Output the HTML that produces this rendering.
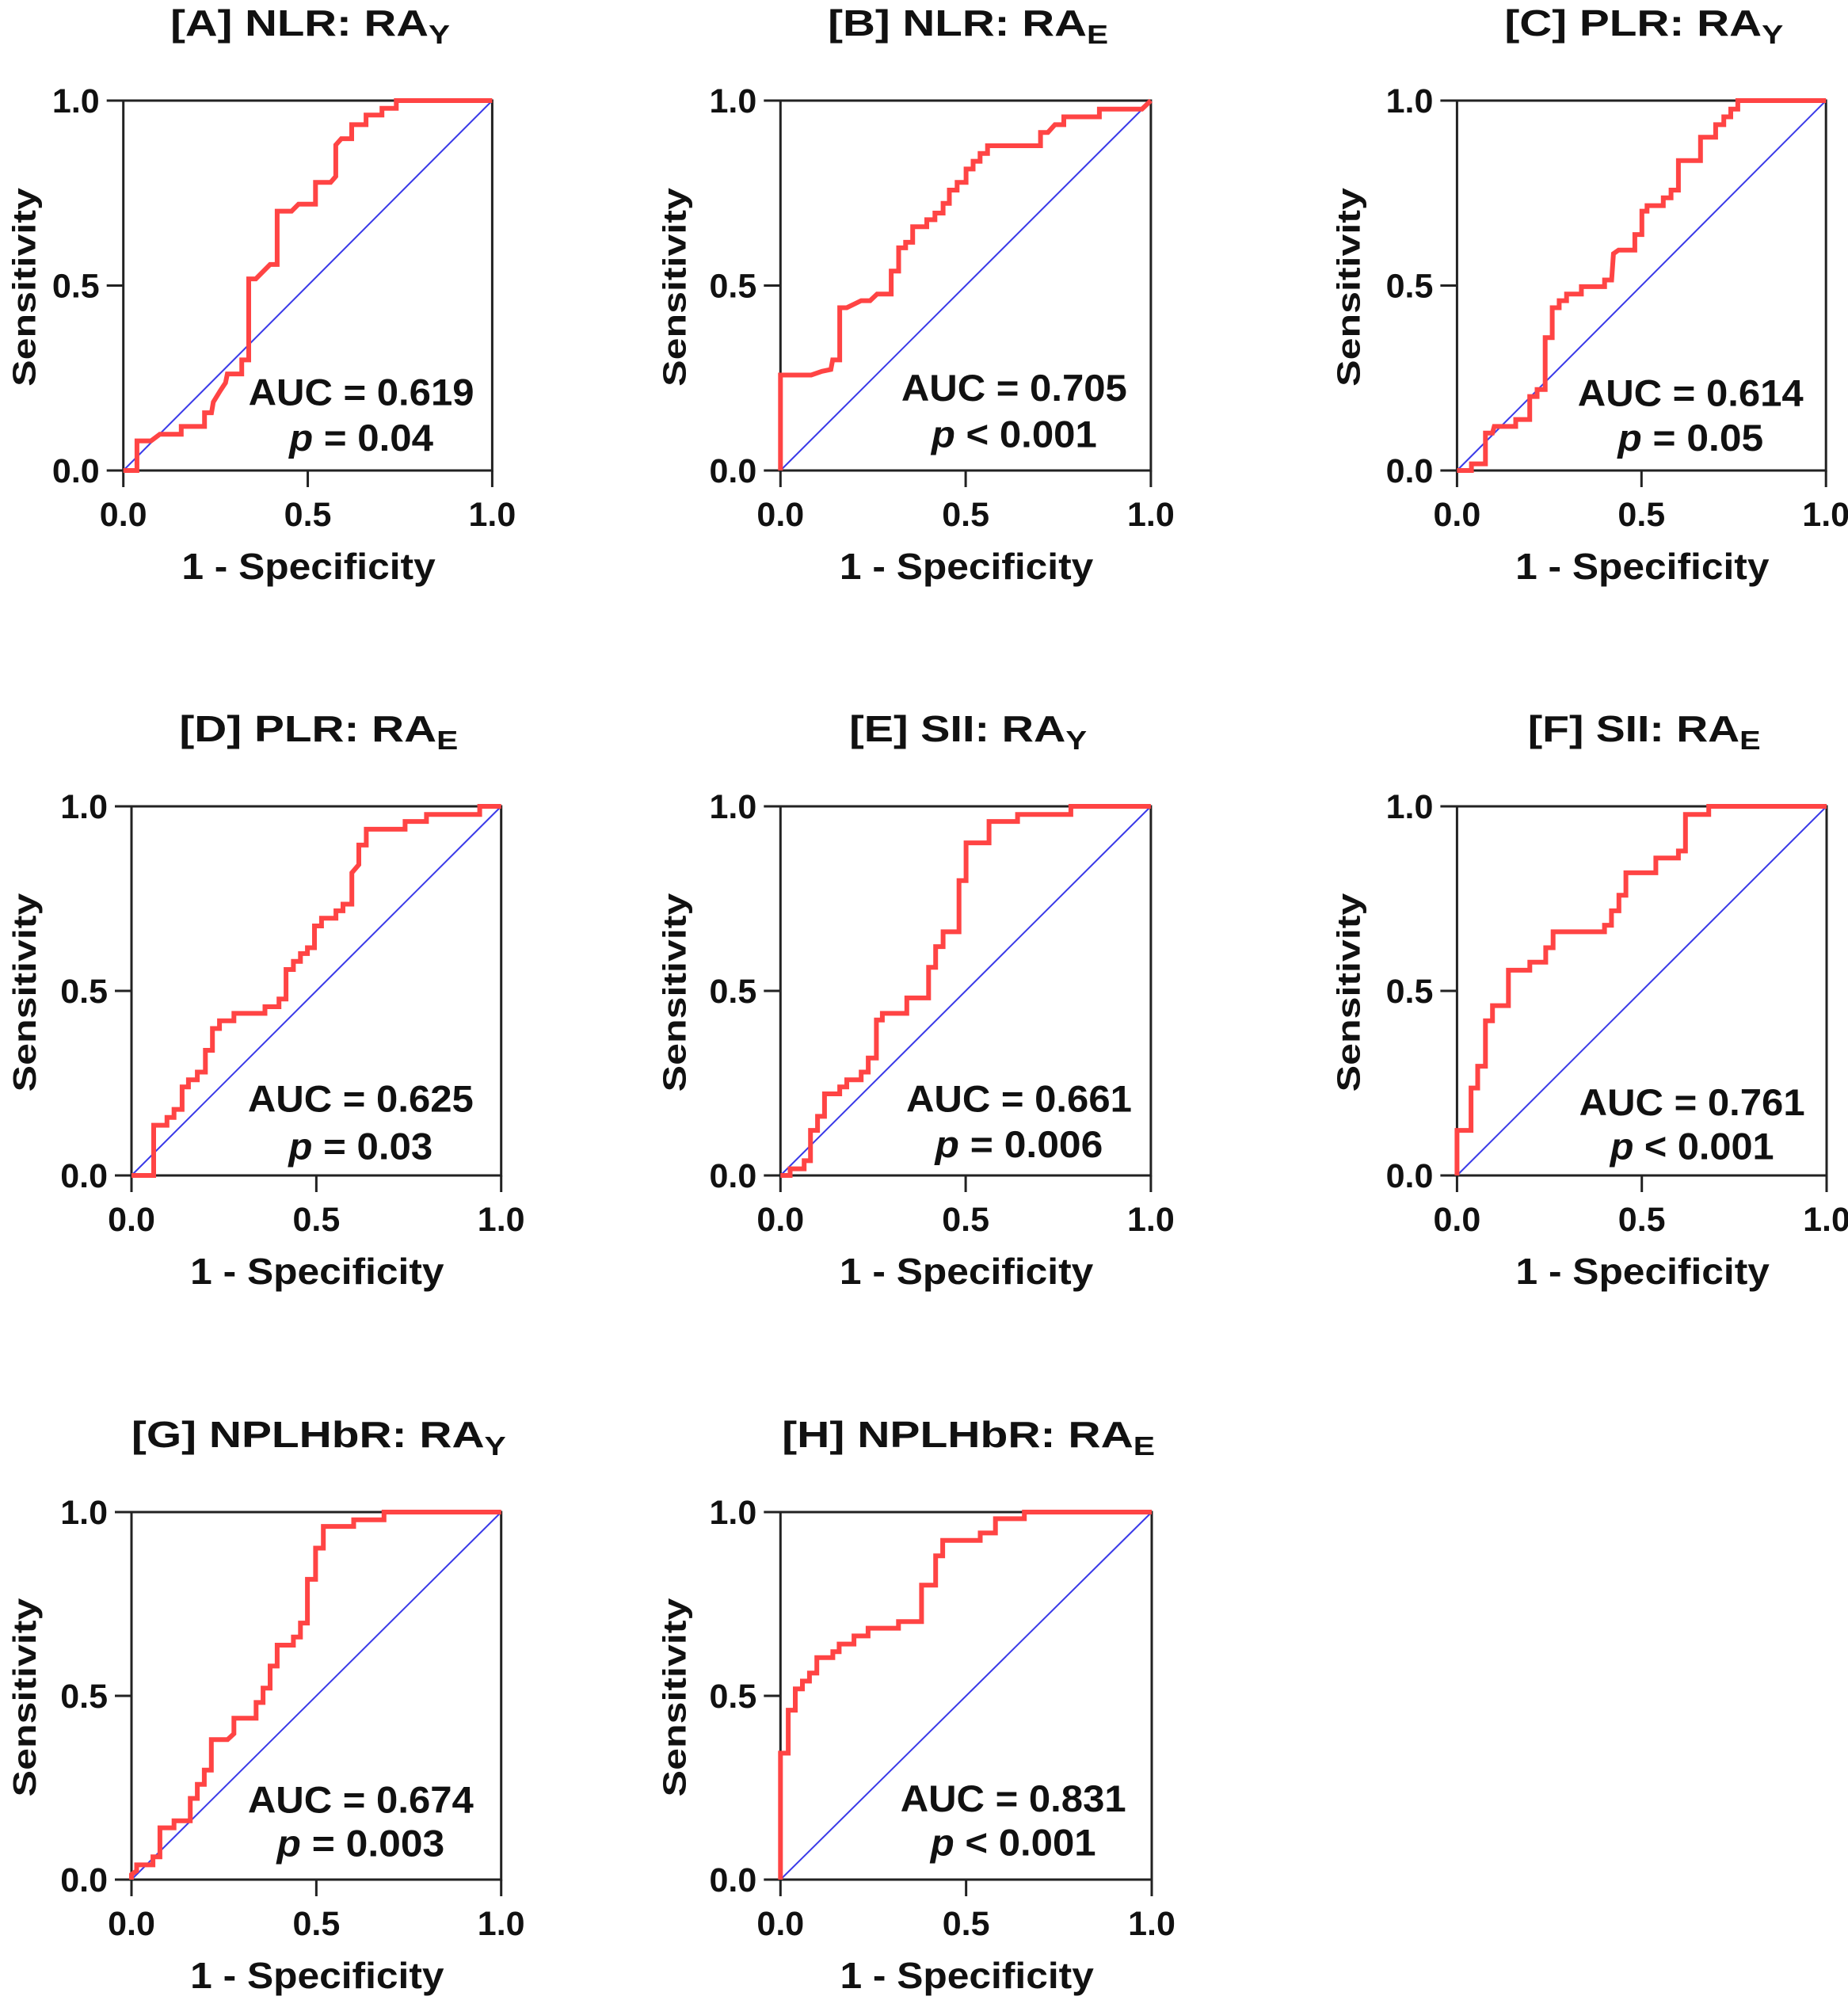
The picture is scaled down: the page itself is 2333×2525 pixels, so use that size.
<!DOCTYPE html>
<html><head><meta charset="utf-8"><style>
html,body{margin:0;padding:0;background:#fff;}
svg{display:block;font-family:"Liberation Sans",Arial,sans-serif;font-weight:bold;}
</style></head><body>
<svg id="fig" width="2333" height="2525" viewBox="0 0 2333 2525" xmlns="http://www.w3.org/2000/svg">
<rect width="2333" height="2525" fill="#fff"/>
</svg>
<script>
// ---- data: ROC curve vertices (1 - specificity, sensitivity) per panel ----
const panelIds = ["A","B","C","D","E","F","G","H"];
const titleMain = ["[A] NLR: RA","[B] NLR: RA","[C] PLR: RA","[D] PLR: RA","[E] SII: RA","[F] SII: RA","[G] NPLHbR: RA","[H] NPLHbR: RA"];
const titleSub = ["Y","E","Y","E","Y","E","Y","E"];
const aucLabels = ["AUC = 0.619","AUC = 0.705","AUC = 0.614","AUC = 0.625","AUC = 0.661","AUC = 0.761","AUC = 0.674","AUC = 0.831"];
const pOps = ["=","<","=","=","=","<","=","<"];
const pVals = ["0.04","0.001","0.05","0.03","0.006","0.001","0.003","0.001"];
const tickValues = [0, 0.5, 1];
const tickLabels = ["0.0","0.5","1.0"];

const xA = [0,0.037,0.037,0.075,0.099,0.157,0.157,0.220,0.220,0.239,0.244,0.263,0.277,0.282,0.321,0.321,0.340,0.340,0.359,0.398,0.417,0.417,0.456,0.475,0.521,0.521,0.562,0.576,0.576,0.591,0.619,0.619,0.658,0.658,0.701,0.701,0.740,0.740,1];
const yA = [0,0,0.080,0.080,0.098,0.098,0.119,0.119,0.156,0.156,0.185,0.216,0.237,0.261,0.261,0.299,0.299,0.518,0.518,0.557,0.557,0.701,0.701,0.720,0.720,0.779,0.779,0.795,0.880,0.897,0.897,0.935,0.935,0.961,0.961,0.979,0.979,1,1];
const xB = [0,0,0.083,0.112,0.136,0.141,0.160,0.160,0.179,0.218,0.242,0.261,0.299,0.299,0.319,0.319,0.338,0.338,0.357,0.357,0.395,0.395,0.417,0.417,0.439,0.439,0.456,0.456,0.477,0.477,0.501,0.501,0.520,0.520,0.539,0.539,0.559,0.559,0.702,0.702,0.722,0.741,0.765,0.765,0.861,0.861,0.976,1];
const yB = [0,0.258,0.258,0.268,0.273,0.299,0.299,0.440,0.440,0.459,0.459,0.477,0.477,0.539,0.539,0.602,0.602,0.617,0.617,0.659,0.659,0.678,0.678,0.696,0.696,0.722,0.722,0.758,0.758,0.779,0.779,0.815,0.815,0.836,0.836,0.857,0.857,0.878,0.878,0.914,0.914,0.935,0.935,0.956,0.956,0.977,0.977,1];
const xC = [0,0.039,0.039,0.077,0.077,0.096,0.101,0.159,0.159,0.197,0.197,0.217,0.217,0.239,0.239,0.258,0.258,0.277,0.277,0.297,0.297,0.337,0.337,0.400,0.400,0.419,0.424,0.438,0.482,0.482,0.501,0.501,0.515,0.515,0.559,0.559,0.580,0.580,0.600,0.600,0.660,0.660,0.701,0.701,0.723,0.723,0.742,0.742,0.761,0.761,1];
const yC = [0,0,0.018,0.018,0.101,0.101,0.119,0.119,0.138,0.138,0.200,0.200,0.219,0.219,0.359,0.359,0.440,0.440,0.459,0.459,0.477,0.477,0.497,0.497,0.515,0.515,0.586,0.596,0.596,0.638,0.638,0.701,0.701,0.716,0.716,0.737,0.737,0.758,0.758,0.838,0.838,0.901,0.901,0.935,0.935,0.956,0.956,0.977,0.977,1,1];
const xD = [0,0.060,0.060,0.096,0.096,0.115,0.115,0.137,0.137,0.154,0.154,0.178,0.178,0.200,0.200,0.219,0.219,0.238,0.238,0.277,0.277,0.361,0.361,0.399,0.399,0.418,0.418,0.438,0.438,0.457,0.457,0.476,0.476,0.495,0.495,0.514,0.514,0.553,0.553,0.572,0.572,0.596,0.596,0.615,0.615,0.635,0.635,0.740,0.740,0.798,0.798,0.942,0.942,1];
const yD = [0,0,0.136,0.136,0.157,0.157,0.179,0.179,0.240,0.240,0.259,0.259,0.280,0.280,0.339,0.339,0.398,0.398,0.419,0.419,0.439,0.439,0.457,0.457,0.478,0.478,0.558,0.558,0.580,0.580,0.601,0.601,0.617,0.617,0.676,0.676,0.697,0.697,0.717,0.717,0.735,0.735,0.820,0.842,0.895,0.895,0.938,0.938,0.959,0.959,0.978,0.978,1,1];
const xE = [0,0.026,0.026,0.064,0.064,0.081,0.081,0.100,0.100,0.119,0.119,0.160,0.160,0.179,0.179,0.218,0.218,0.237,0.237,0.259,0.259,0.275,0.275,0.341,0.341,0.400,0.400,0.419,0.419,0.439,0.439,0.482,0.482,0.501,0.501,0.563,0.563,0.640,0.640,0.784,0.784,1];
const yE = [0,0,0.018,0.018,0.040,0.040,0.122,0.122,0.160,0.160,0.221,0.221,0.240,0.240,0.259,0.259,0.280,0.280,0.318,0.318,0.421,0.421,0.439,0.439,0.481,0.481,0.564,0.564,0.620,0.620,0.660,0.660,0.799,0.799,0.901,0.901,0.959,0.959,0.978,0.978,1,1];
const xF = [0,0,0.038,0.038,0.056,0.056,0.077,0.077,0.096,0.096,0.139,0.139,0.197,0.197,0.240,0.240,0.260,0.260,0.399,0.399,0.418,0.418,0.438,0.438,0.457,0.457,0.538,0.538,0.599,0.599,0.618,0.618,0.681,0.681,1];
const yF = [0,0.122,0.122,0.237,0.237,0.296,0.296,0.419,0.419,0.460,0.460,0.556,0.556,0.578,0.578,0.617,0.617,0.660,0.660,0.678,0.678,0.717,0.717,0.759,0.759,0.820,0.820,0.860,0.860,0.879,0.879,0.978,0.978,1,1];
const xG = [0,0,0.014,0.014,0.058,0.058,0.077,0.077,0.115,0.115,0.159,0.159,0.178,0.178,0.197,0.197,0.216,0.216,0.260,0.277,0.277,0.337,0.337,0.356,0.356,0.375,0.375,0.394,0.394,0.438,0.438,0.457,0.457,0.476,0.476,0.498,0.498,0.519,0.519,0.601,0.601,0.683,0.683,1];
const yG = [0,0.014,0.024,0.040,0.040,0.062,0.062,0.141,0.141,0.160,0.160,0.221,0.221,0.259,0.259,0.298,0.298,0.381,0.381,0.397,0.439,0.439,0.482,0.482,0.521,0.521,0.581,0.581,0.638,0.638,0.660,0.660,0.698,0.698,0.817,0.817,0.902,0.902,0.961,0.961,0.979,0.979,1,1];
const xH = [0,0,0.021,0.021,0.040,0.040,0.059,0.059,0.078,0.078,0.098,0.098,0.141,0.141,0.158,0.158,0.198,0.198,0.236,0.236,0.318,0.318,0.380,0.380,0.418,0.418,0.437,0.437,0.538,0.538,0.579,0.579,0.657,0.657,1];
const yH = [0,0.344,0.344,0.461,0.461,0.519,0.519,0.540,0.540,0.562,0.562,0.604,0.604,0.620,0.620,0.641,0.641,0.663,0.663,0.684,0.684,0.702,0.702,0.801,0.801,0.881,0.881,0.923,0.923,0.943,0.943,0.982,0.982,1,1];
const curveX = [xA,xB,xC,xD,xE,xF,xG,xH];
const curveY = [yA,yB,yC,yD,yE,yF,yG,yH];

// ---- layout (pixel geometry, not data) ----
const V = 1.086;
const frames = [
  {l:155.7,r:621.4,t:127,b:594},{l:985.3,r:1452.9,t:127,b:594},{l:1839.4,r:2305.2,t:127,b:594},
  {l:166,r:632.7,t:1018,b:1484},{l:985.3,r:1452.9,t:1018,b:1484},{l:1839.4,r:2306,t:1018,b:1484},
  {l:166,r:632.7,t:1909,b:2373},{l:985.3,r:1454,t:1909,b:2373}];
const titleW = [353,354,352,352,300,294,473,471];
const statCx = [0.645,0.631,0.633,0.62,0.644,0.636,0.62,0.627];
const aucOff = [76,81,75,74,74,70,78,79];
const pOff = [23,27,23,19,21,19,27,28];
const pW = [184,211,186,184,214,209,214,211];
const sensOff = [111,120,123,121,120,123,121,120];

const NS = "http://www.w3.org/2000/svg";
const svg = document.getElementById("fig");
function mk(tag, attrs, parent){
  const e = document.createElementNS(NS, tag);
  for (const k in attrs) e.setAttribute(k, attrs[k]);
  (parent||svg).appendChild(e);
  return e;
}
function fitX(el, target, cx){
  const w = el.getBBox().width;
  if (w > 0) {
    const s = target / w;
    el.setAttribute("transform", "translate(" + cx + ",0) scale(" + s + ",1) translate(" + (-cx) + ",0)");
  }
}

panelIds.forEach(function(id, i){
  const f = frames[i];
  const sx = function(v){ return f.l + v * (f.r - f.l); };
  const sy = function(v){ return f.b - v * (f.b - f.t); };
  const g = mk("g", {});
  
  

  const cx = (f.l + f.r) / 2 + 3;
  const title = mk("text", {x: cx, y: f.t - 82, "text-anchor": "middle", "font-size": 46, fill: "#111"}, g);
  
  
  const t1 = mk("tspan", {}, title); t1.textContent = titleMain[i];
  const t2 = mk("tspan", {"font-size": 33, dy: 10}, title); t2.textContent = titleSub[i];
  fitX(title, titleW[i], cx);

  const diag = mk("line", {x1: sx(0), y1: sy(0), x2: sx(1), y2: sy(1), stroke: "#3a3ae8", "stroke-width": 2}, g);
  
  

  const box = mk("rect", {x: f.l, y: f.t, width: f.r - f.l, height: f.b - f.t, fill: "none", stroke: "#222", "stroke-width": 3}, g);
  
  

  tickValues.forEach(function(v, k){
    const yt = mk("line", {x1: f.l - 21, y1: sy(v), x2: f.l, y2: sy(v), stroke: "#222", "stroke-width": 3}, g);
    
    
    const yl = mk("text", {x: f.l - 30, y: sy(v) + 15, "text-anchor": "end", "font-size": 43, fill: "#111"}, g);
    
    
    yl.textContent = tickLabels[k];
    const xt = mk("line", {x1: sx(v), y1: f.b, x2: sx(v), y2: f.b + 21, stroke: "#222", "stroke-width": 3}, g);
    
    
    const xl = mk("text", {x: sx(v), y: f.b + 70, "text-anchor": "middle", "font-size": 43, fill: "#111"}, g);
    
    
    xl.textContent = tickLabels[k];
  });

  const xcx = (f.l + f.r) / 2 + 1;
  const xt = mk("text", {x: xcx, y: f.b + 137, "text-anchor": "middle", "font-size": 46, fill: "#111"}, g);
  
  
  xt.textContent = "1 - Specificity";
  fitX(xt, 321, xcx);

  const yg = mk("g", {transform: "translate(" + (f.l - sensOff[i]) + "," + ((f.t + f.b) / 2 + 2) + ") rotate(-90)"}, g);
  const yt = mk("text", {x: 0, y: 0, "text-anchor": "middle", "font-size": 41, fill: "#111"}, yg);
  
  
  yt.textContent = "Sensitivity";
  fitX(yt, 251, 0);

  const xs = curveX[i], ys = curveY[i];
  let d = "";
  for (let k = 0; k < xs.length; k++) d += (k ? "L" : "M") + sx(xs[k]).toFixed(1) + "," + sy(ys[k]).toFixed(1);
  const curve = mk("path", {d: d, fill: "none", stroke: "#ff4444", "stroke-width": 6, "stroke-linejoin": "miter"}, g);
  
  

  const scx = sx(statCx[i]);
  const auc = mk("text", {x: scx, y: f.b - aucOff[i] * V, "text-anchor": "middle", "font-size": 47, fill: "#111"}, g);
  
  
  auc.textContent = aucLabels[i];
  fitX(auc, 285, scx);
  const pl = mk("text", {x: scx, y: f.b - pOff[i] * V, "text-anchor": "middle", "font-size": 47, fill: "#111"}, g);
  
  
  const pi = mk("tspan", {"font-style": "italic"}, pl); pi.textContent = "p";
  const pr = mk("tspan", {}, pl); pr.textContent = " " + pOps[i] + " " + pVals[i];
  fitX(pl, pW[i], scx);
});
</script>
</body></html>
